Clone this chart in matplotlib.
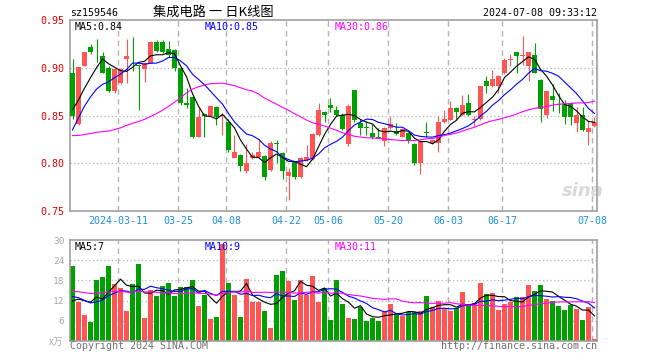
import numpy as np
import pandas as pd
import matplotlib
matplotlib.use("Agg")
import matplotlib.pyplot as plt

# ==========================================
# DATA
# ==========================================
opens = [0.894, 0.841, 0.902, 0.922, 0.917, 0.912, 0.900, 0.876, 0.884, 0.909,
         0.917, 0.903, 0.899, 0.905, 0.927, 0.927, 0.920, 0.919, 0.900, 0.863,
         0.869, 0.827, 0.852, 0.850, 0.859, 0.849, 0.843, 0.806, 0.809, 0.792,
         0.805, 0.807, 0.808, 0.793, 0.821, 0.811, 0.787, 0.801, 0.786, 0.803,
         0.804, 0.830, 0.854, 0.861, 0.856, 0.850, 0.820, 0.877, 0.842, 0.838,
         0.832, 0.828, 0.823, 0.837, 0.834, 0.828, 0.832, 0.820, 0.800, 0.833,
         0.821, 0.821, 0.843, 0.845, 0.858, 0.851, 0.863, 0.845, 0.846, 0.886,
         0.881, 0.881, 0.894, 0.908, 0.916, 0.912, 0.902, 0.913, 0.887, 0.851,
         0.870, 0.862, 0.862, 0.863, 0.842, 0.851, 0.833, 0.839]
highs = [0.909, 0.901, 0.917, 0.925, 0.930, 0.916, 0.902, 0.900, 0.900, 0.930,
         0.932, 0.904, 0.906, 0.928, 0.929, 0.929, 0.928, 0.920, 0.900, 0.879,
         0.869, 0.858, 0.853, 0.861, 0.860, 0.853, 0.846, 0.830, 0.810, 0.820,
         0.812, 0.825, 0.809, 0.823, 0.824, 0.812, 0.795, 0.802, 0.807, 0.819,
         0.832, 0.863, 0.855, 0.868, 0.860, 0.853, 0.862, 0.877, 0.846, 0.844,
         0.841, 0.837, 0.838, 0.850, 0.842, 0.837, 0.833, 0.821, 0.824, 0.843,
         0.825, 0.849, 0.856, 0.865, 0.859, 0.871, 0.873, 0.849, 0.881, 0.891,
         0.898, 0.892, 0.910, 0.914, 0.917, 0.933, 0.917, 0.926, 0.888, 0.876,
         0.883, 0.874, 0.866, 0.864, 0.859, 0.859, 0.844, 0.848]
lows = [0.846, 0.840, 0.902, 0.914, 0.906, 0.894, 0.875, 0.874, 0.883, 0.884,
        0.897, 0.856, 0.885, 0.905, 0.917, 0.915, 0.911, 0.897, 0.861, 0.858,
        0.826, 0.827, 0.828, 0.850, 0.840, 0.830, 0.812, 0.805, 0.792, 0.790,
        0.804, 0.806, 0.782, 0.792, 0.800, 0.783, 0.762, 0.783, 0.785, 0.802,
        0.803, 0.829, 0.843, 0.854, 0.850, 0.835, 0.818, 0.843, 0.830, 0.830,
        0.825, 0.826, 0.818, 0.836, 0.830, 0.827, 0.821, 0.798, 0.789, 0.827,
        0.820, 0.812, 0.842, 0.845, 0.846, 0.850, 0.850, 0.839, 0.845, 0.874,
        0.880, 0.874, 0.893, 0.902, 0.895, 0.903, 0.886, 0.894, 0.843, 0.847,
        0.855, 0.853, 0.841, 0.840, 0.833, 0.834, 0.819, 0.838]
closes = [0.849, 0.901, 0.917, 0.917, 0.916, 0.895, 0.876, 0.899, 0.899, 0.912,
          0.916, 0.902, 0.905, 0.927, 0.918, 0.916, 0.913, 0.900, 0.863, 0.861,
          0.827, 0.848, 0.849, 0.860, 0.848, 0.851, 0.814, 0.812, 0.797, 0.800,
          0.809, 0.812, 0.786, 0.821, 0.820, 0.792, 0.791, 0.786, 0.806, 0.807,
          0.831, 0.856, 0.851, 0.858, 0.851, 0.836, 0.860, 0.845, 0.837, 0.837,
          0.827, 0.826, 0.837, 0.841, 0.831, 0.836, 0.823, 0.800, 0.823, 0.832,
          0.824, 0.843, 0.846, 0.858, 0.854, 0.861, 0.851, 0.845, 0.881, 0.881,
          0.888, 0.891, 0.908, 0.909, 0.912, 0.912, 0.916, 0.895, 0.857, 0.876,
          0.866, 0.861, 0.848, 0.848, 0.851, 0.835, 0.837, 0.843]
volumes = [22.2, 11.7, 7.7, 5.7, 18.0, 19.1, 22.2, 17.0, 15.6, 9.0,
           17.0, 22.8, 6.9, 15.2, 13.5, 16.4, 17.3, 13.5, 15.9, 15.9,
           18.2, 10.5, 13.7, 6.5, 7.2, 28.7, 17.3, 13.7, 7.2, 18.5,
           11.5, 11.7, 8.9, 3.9, 19.5, 20.9, 17.9, 12.2, 18.2, 13.7,
           19.4, 11.7, 15.7, 6.2, 18.2, 11.0, 6.8, 6.5, 10.0, 5.9,
           6.9, 5.9, 8.9, 11.0, 7.9, 7.5, 8.5, 8.5, 8.9, 13.4,
           10.2, 11.9, 9.5, 8.9, 9.7, 14.6, 11.0, 11.2, 17.3, 14.0,
           14.3, 9.2, 11.0, 11.5, 13.1, 13.1, 16.7, 14.9, 16.7, 12.5,
           11.9, 10.4, 9.2, 10.7, 9.5, 6.2, 10.2, 0.7]

# sessions before the window, only needed so the moving averages start right
pre_close = [0.895, 0.890, 0.880, 0.885, 0.870, 0.860, 0.850, 0.845, 0.838, 0.850,
             0.845, 0.835, 0.840, 0.825, 0.810, 0.795, 0.765, 0.730, 0.700, 0.710,
             0.775, 0.795, 0.820, 0.835, 0.845, 0.850, 0.855, 0.862, 0.864]
pre_vol = [14, 16, 13, 15, 17, 14, 12, 15, 16, 18,
           14, 13, 15, 17, 19, 22, 18, 16, 14, 11.5,
           15, 16, 13, 15, 13.5, 9, 10, 8, 10.3]

date_idx = [8, 18, 26, 36, 43, 53, 63, 72, 87]
date_lbl = ["2024-03-11", "03-25", "04-08", "04-22", "05-06",
            "05-20", "06-03", "06-17", "07-08"]

price_ticks = [0.75, 0.80, 0.85, 0.90, 0.95]
vol_ticks = [6, 12, 18, 24, 30]

# ==========================================
# STYLE
# ==========================================
W, H = 660, 360
RED = '#FF5555'
GREEN = '#00A000'
GRID = '#B4B4B4'
FRAME = '#A0A0A0'
MONO = 'DejaVu Sans Mono'
FS = 7.2


def rect(l, t, r, b):
    return [l / W, 1 - b / H, (r - l) / W, (b - t) / H]


def ftext(x, y, s, **kw):
    fig.text(x / W, 1 - y / H, s, **kw)


def trunc2(val):
    # sina shows the moving averages cut, not rounded
    return f"{np.floor(val * 100 + 1e-9) / 100:.2f}"


n = len(closes)
x = np.arange(n)
o = np.array(opens)
c = np.array(closes)
hi = np.array(highs)
lo = np.array(lows)
v = np.array(volumes)
cols = np.where(c >= o, RED, GREEN)

full_c = pd.Series(pre_close + closes)
full_v = pd.Series(pre_vol + volumes)
k = len(pre_close)
ma = {w: full_c.rolling(w).mean().to_numpy()[k:] for w in (5, 10, 30)}
vma = {w: full_v.rolling(w).mean().to_numpy()[k:] for w in (5, 10, 30)}

fig = plt.figure(figsize=(W / 100, H / 100), dpi=100)
ax = fig.add_axes(rect(70, 20, 597, 211))
axv = fig.add_axes(rect(70, 240, 597, 341))

xlim = (-2.5 / 6, (597 - 72.5) / 6)

for a in (ax, axv):
    a.set_xlim(*xlim)
    a.set_xticks([])
    for s in a.spines.values():
        s.set_color(FRAME)
        s.set_linewidth(1.2)
    for i in date_idx:
        a.axvline(i - 0.42, color=GRID, lw=1.0, ls=(0, (4, 3)), zorder=0)

# ---- price panel ----
ax.set_ylim(0.75, 0.95)
for t in price_ticks[1:-1]:
    ax.axhline(t, color=GRID, lw=0.9, ls=(0, (1, 2)), zorder=0)
ax.set_yticks(price_ticks)
ax.set_yticklabels([f"{t:.2f}" for t in price_ticks], family=MONO, fontsize=FS)
ax.tick_params(axis='y', length=0, pad=4, labelcolor='#E00000')

ax.vlines(x, lo, hi, colors=cols, lw=0.8, zorder=2)
ax.bar(x, np.maximum(np.abs(c - o), 0.0009), bottom=np.minimum(o, c),
       width=0.8, color=cols, lw=0, zorder=3)

ax.plot(x, ma[5], color='black', lw=0.8, zorder=4)
ax.plot(x, ma[10], color='#0000FF', lw=0.8, zorder=4)
ax.plot(x, ma[30], color='#FF00FF', lw=0.8, zorder=4)

ax.text(85.0, 0.7615, "sina", fontsize=13, fontweight='bold',
        style='italic', color='#D8D8D8', ha='center', va='bottom', zorder=1)

# ---- volume panel ----
axv.set_ylim(0, 30)
for t in vol_ticks[:-1]:
    axv.axhline(t, color=GRID, lw=0.9, ls=(0, (1, 2)), zorder=0)
axv.set_yticks(vol_ticks)
axv.set_yticklabels([str(t) for t in vol_ticks], family=MONO, fontsize=6.8)
axv.tick_params(axis='y', length=0, pad=4, labelcolor='#A8A8A8')

axv.bar(x, v, width=0.8, color=cols, lw=0, zorder=2)
axv.plot(x, vma[5], color='black', lw=0.8, zorder=3)
axv.plot(x, vma[10], color='#0000FF', lw=0.8, zorder=3)
axv.plot(x, vma[30], color='#FF00FF', lw=0.8, zorder=3)

# ---- texts ----
ftext(70, 13, "sz159546", family=MONO, fontsize=FS, va='center')
ftext(213, 12, "集成电路 一 日K线图", family=['Noto Sans CJK SC', 'DejaVu Sans'],
      fontsize=9.5, ha='center', va='center')
ftext(597, 13, "2024-07-08 09:33:12", family=MONO, fontsize=FS, ha='right', va='center')

ftext(75, 27, "MA5:" + trunc2(ma[5][-1]), family=MONO, fontsize=FS, va='center', color='black')
ftext(205, 27, "MA10:" + trunc2(ma[10][-1]), family=MONO, fontsize=FS, va='center', color='#0000FF')
ftext(335, 27, "MA30:" + trunc2(ma[30][-1]), family=MONO, fontsize=FS, va='center', color='#FF00FF')

ftext(75, 247, f"MA5:{int(vma[5][-1])}", family=MONO, fontsize=FS, va='center', color='black')
ftext(205, 247, f"MA10:{int(vma[10][-1])}", family=MONO, fontsize=FS, va='center', color='#0000FF')
ftext(335, 247, f"MA30:{int(vma[30][-1])}", family=MONO, fontsize=FS, va='center', color='#FF00FF')

for i, lbl in zip(date_idx, date_lbl):
    px = 72.5 + 6 * (i - 0.42)
    ftext(px, 221, lbl, family=MONO, fontsize=FS, ha='center', va='center', color='#1E8FD8')

ftext(49, 342, "x万", family=['Noto Sans CJK SC', 'DejaVu Sans'], fontsize=7,
      va='center', color='#B0B0B0')
ftext(70, 346, "Copyright 2024 SINA.COM", family=MONO, fontsize=FS, va='center', color='#707070')
ftext(597, 346, "http://finance.sina.com.cn", family=MONO, fontsize=FS, ha='right',
      va='center', color='#707070')

fig.savefig("out.png", dpi=100)
